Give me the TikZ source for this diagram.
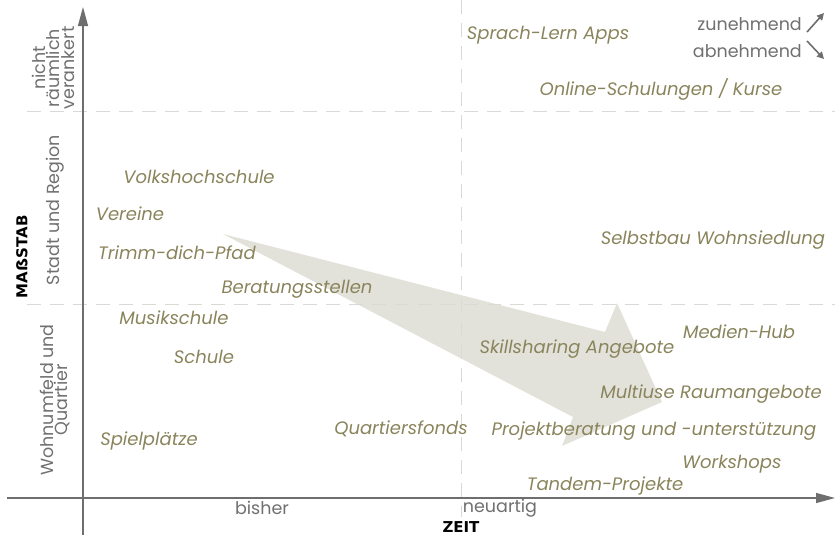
\documentclass[tikz,border=0pt]{standalone}
\usepackage{fontspec}
\setmainfont{Poppins}
\newfontfamily\sharpsfont{DejaVu Sans}

\usetikzlibrary{arrows.meta}

\definecolor{itemolive}{HTML}{8A845C}
\definecolor{labelgray}{HTML}{707070}
\definecolor{axisgray}{HTML}{6E6E6E}
\definecolor{gridgray}{HTML}{D9D9D6}
\definecolor{trendfill}{HTML}{E3E2DA}

\begin{document}
\begin{tikzpicture}[x=1pt, y=-1pt,
    item/.style={font=\itshape\fontsize{18}{20}\selectfont, text=itemolive, inner sep=0pt},
    axislabel/.style={font=\fontsize{17.5}{14.5}\selectfont, text=labelgray, inner sep=0pt, align=center},
    axistitle/.style={font=\sharpsfont\bfseries\fontsize{15}{16}\selectfont, text=black, inner sep=0pt},
    axisline/.style={draw=axisgray, line width=1.3pt, -{Triangle[length=19pt, width=10pt]}},
    gridline/.style={draw=gridgray, line width=1pt, dash pattern=on 14pt off 9pt},
    trendarrow/.style={draw=axisgray, line width=1.6pt, -{Triangle[length=7pt, width=7pt]}}
  ]
    \useasboundingbox (0,0) rectangle (835,538);

    % trend arrow in the background
    \fill[trendfill]
      (223,234) -- (605,332) -- (617,303) -- (662,402)
      -- (562,446) -- (573,417) -- cycle
    ;

    % grid
    \coordinate (gridtop) at (461,0);
    \coordinate (gridbottom) at (461,517);
    \coordinate (globalleft) at (27,111);
    \coordinate (globalright) at (835,111);
    \coordinate (cityleft) at (27,304);
    \coordinate (cityright) at (835,304);
    \draw[gridline] (gridtop) -- (gridbottom);
    \draw[gridline] (globalleft) -- (globalright);
    \draw[gridline] (cityleft) -- (cityright);

    % axes
    \coordinate (xstart) at (7,498);
    \coordinate (xend) at (835,498);
    \coordinate (ystart) at (83,535);
    \coordinate (yend) at (83,7);
    \draw[axisline] (xstart) -- (xend);
    \draw[axisline] (ystart) -- (yend);

    \node[axislabel] (bisher) at (262,508) {bisher};
    \node[axislabel] (neuartig) at (500,508) {neuartig};
    \node[axistitle] (zeit) at (461,527) {ZEIT};

    \node[axislabel, rotate=90] (global) at (53,68) {nicht\\räumlich\\verankert};
    \node[axislabel, rotate=90] (city) at (55,210) {Stadt und Region};
    \node[axislabel, rotate=90] (quarter) at (55,400) {Wohnumfeld und\\Quartier};
    \node[axistitle, rotate=90] (massstab) at (22,257) {MAẞSTAB};

    % legend
    \node[axislabel, anchor=east] (zu) at (802,24) {zunehmend};
    \node[axislabel, anchor=east] (ab) at (802,51) {abnehmend};
    \coordinate (zufrom) at (807,32);
    \coordinate (zuto) at (824,13);
    \coordinate (abfrom) at (807,41);
    \coordinate (abto) at (824,59);
    \draw[trendarrow] (zufrom) -- (zuto);
    \draw[trendarrow] (abfrom) -- (abto);

    % offers
    \node[item] (apps) at (548,35) {Sprach-Lern Apps};
    \node[item] (online) at (661,89) {Online-Schulungen / Kurse};
    \node[item] (vhs) at (199,177) {Volkshochschule};
    \node[item] (vereine) at (130,214) {Vereine};
    \node[item] (trimm) at (177,253) {Trimm-dich-Pfad};
    \node[item] (selbstbau) at (713,240) {Selbstbau Wohnsiedlung};
    \node[item] (beratung) at (297,289) {Beratungsstellen};
    \node[item] (musik) at (174,318) {Musikschule};
    \node[item] (medien) at (739,332) {Medien-Hub};
    \node[item] (skills) at (577,349) {Skillsharing Angebote};
    \node[item] (schule) at (204,357) {Schule};
    \node[item] (multiuse) at (711,394) {Multiuse Raumangebote};
    \node[item] (spiel) at (149,441) {Spielplätze};
    \node[item] (fonds) at (401,429) {Quartiersfonds};
    \node[item] (projekt) at (654,431) {Projektberatung und -unterstützung};
    \node[item] (workshops) at (732,464) {Workshops};
    \node[item] (tandem) at (605,486) {Tandem-Projekte};
  \end{tikzpicture}
\end{document}
